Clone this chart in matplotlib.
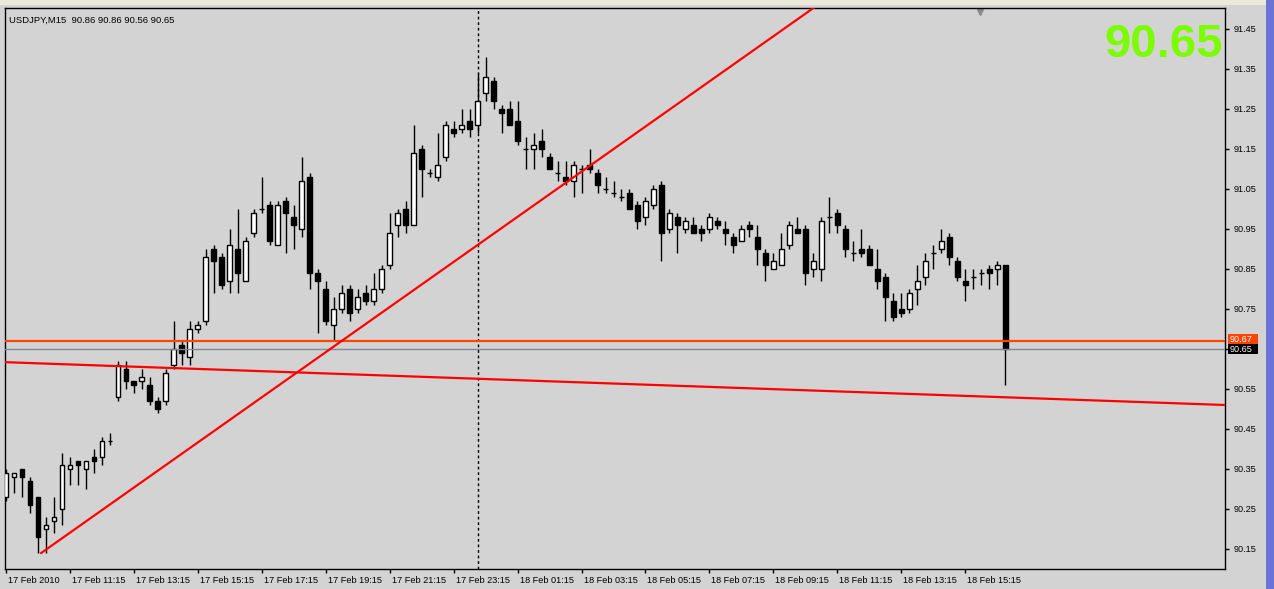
import matplotlib
matplotlib.use('Agg')
import matplotlib.pyplot as plt
import matplotlib.transforms as mtransforms
from matplotlib.patches import Rectangle

# USDJPY M15 candles, 17 Feb 2010 09:15 .. 18 Feb 2010 16:30
opens = [90.28, 90.33, 90.35, 90.32, 90.28, 90.20, 90.22, 90.25, 90.35, 90.37,
         90.35, 90.38, 90.38, 90.42, 90.53, 90.60, 90.57, 90.57, 90.56, 90.52,
         90.52, 90.61, 90.66, 90.63, 90.70, 90.72, 90.90, 90.88, 90.82, 90.90,
         90.82, 90.94, 91.00, 91.01, 90.91, 91.02, 90.98, 90.95, 91.08, 90.84,
         90.80, 90.71, 90.75, 90.80, 90.75, 90.79, 90.77, 90.80, 90.86, 90.96,
         91.00, 90.96, 91.15, 91.09, 91.08, 91.13, 91.20, 91.20, 91.22, 91.21,
         91.29, 91.32, 91.25, 91.25, 91.22, 91.15, 91.15, 91.17, 91.13, 91.09,
         91.08, 91.07, 91.10, 91.11, 91.09, 91.05, 91.04, 91.03, 91.04, 91.01,
         90.98, 91.01, 91.06, 90.95, 90.98, 90.95, 90.96, 90.95, 90.95, 90.97,
         90.95, 90.93, 90.92, 90.96, 90.93, 90.89, 90.85, 90.86, 90.91, 90.95,
         90.95, 90.85, 90.85, 90.98, 90.99, 90.95, 90.89, 90.90, 90.90, 90.85,
         90.83, 90.77, 90.75, 90.75, 90.80, 90.83, 90.89, 90.90, 90.93, 90.87,
         90.82, 90.83, 90.84, 90.85, 90.85, 90.86]
highs = [90.35, 90.34, 90.35, 90.33, 90.28, 90.23, 90.28, 90.39, 90.38, 90.37,
         90.37, 90.40, 90.43, 90.44, 90.62, 90.62, 90.57, 90.60, 90.58, 90.53,
         90.60, 90.72, 90.67, 90.72, 90.72, 90.90, 90.91, 90.89, 90.95, 91.00,
         90.93, 91.00, 91.08, 91.02, 91.02, 91.03, 91.01, 91.13, 91.09, 90.85,
         90.82, 90.78, 90.81, 90.81, 90.80, 90.81, 90.84, 90.86, 90.99, 91.00,
         91.02, 91.21, 91.16, 91.10, 91.19, 91.22, 91.22, 91.25, 91.25, 91.34,
         91.38, 91.33, 91.26, 91.27, 91.27, 91.18, 91.19, 91.20, 91.14, 91.12,
         91.12, 91.12, 91.11, 91.15, 91.10, 91.08, 91.07, 91.05, 91.05, 91.02,
         91.03, 91.06, 91.07, 91.00, 90.99, 90.98, 90.98, 90.96, 90.99, 90.98,
         90.97, 90.94, 90.96, 90.97, 90.96, 90.90, 90.89, 90.94, 90.97, 90.98,
         90.96, 90.89, 90.98, 91.03, 91.00, 90.96, 90.92, 90.95, 90.91, 90.90,
         90.84, 90.79, 90.79, 90.80, 90.86, 90.89, 90.91, 90.95, 90.94, 90.88,
         90.85, 90.85, 90.85, 90.86, 90.87, 90.86]
lows = [90.27, 90.29, 90.28, 90.24, 90.14, 90.14, 90.19, 90.21, 90.31, 90.31,
        90.30, 90.34, 90.36, 90.41, 90.52, 90.55, 90.54, 90.55, 90.51, 90.49,
        90.51, 90.60, 90.61, 90.61, 90.69, 90.71, 90.79, 90.80, 90.79, 90.79,
        90.82, 90.93, 90.99, 90.91, 90.91, 90.89, 90.90, 90.93, 90.80, 90.69,
        90.71, 90.67, 90.74, 90.72, 90.74, 90.76, 90.76, 90.79, 90.85, 90.93,
        90.94, 90.96, 91.03, 91.08, 91.07, 91.12, 91.18, 91.19, 91.18, 91.19,
        91.27, 91.25, 91.19, 91.21, 91.16, 91.10, 91.10, 91.13, 91.10, 91.07,
        91.06, 91.03, 91.04, 91.09, 91.04, 91.04, 91.03, 91.02, 91.00, 90.95,
        90.96, 91.00, 90.87, 90.94, 90.89, 90.94, 90.94, 90.92, 90.94, 90.95,
        90.91, 90.89, 90.92, 90.93, 90.86, 90.82, 90.85, 90.86, 90.90, 90.94,
        90.81, 90.83, 90.82, 90.94, 90.94, 90.88, 90.87, 90.88, 90.86, 90.80,
        90.72, 90.72, 90.73, 90.74, 90.76, 90.81, 90.85, 90.89, 90.86, 90.82,
        90.77, 90.80, 90.81, 90.80, 90.81, 90.56]
closes = [90.34, 90.34, 90.33, 90.26, 90.18, 90.21, 90.23, 90.36, 90.36, 90.36,
          90.37, 90.37, 90.42, 90.42, 90.61, 90.57, 90.56, 90.58, 90.52, 90.50,
          90.59, 90.65, 90.64, 90.70, 90.71, 90.88, 90.87, 90.81, 90.91, 90.84,
          90.92, 90.99, 91.00, 90.92, 91.01, 90.99, 90.96, 91.07, 90.84, 90.82,
          90.72, 90.75, 90.79, 90.74, 90.78, 90.77, 90.80, 90.85, 90.94, 90.99,
          90.96, 91.14, 91.10, 91.09, 91.11, 91.21, 91.19, 91.21, 91.20, 91.27,
          91.33, 91.27, 91.24, 91.21, 91.17, 91.15, 91.16, 91.15, 91.10, 91.09,
          91.07, 91.11, 91.10, 91.10, 91.06, 91.05, 91.04, 91.03, 91.00, 90.97,
          91.02, 91.05, 90.94, 90.99, 90.96, 90.97, 90.94, 90.94, 90.98, 90.96,
          90.94, 90.91, 90.95, 90.95, 90.90, 90.86, 90.87, 90.90, 90.96, 90.94,
          90.84, 90.87, 90.97, 90.98, 90.96, 90.90, 90.89, 90.89, 90.86, 90.82,
          90.78, 90.73, 90.74, 90.79, 90.82, 90.87, 90.89, 90.92, 90.88, 90.83,
          90.81, 90.83, 90.84, 90.84, 90.86, 90.65]

time_labels = ['17 Feb 2010', '17 Feb 11:15', '17 Feb 13:15', '17 Feb 15:15',
               '17 Feb 17:15', '17 Feb 19:15', '17 Feb 21:15', '17 Feb 23:15',
               '18 Feb 01:15', '18 Feb 03:15', '18 Feb 05:15', '18 Feb 07:15',
               '18 Feb 09:15', '18 Feb 11:15', '18 Feb 13:15', '18 Feb 15:15']
price_ticks = [90.15, 90.25, 90.35, 90.45, 90.55, 90.65, 90.75, 90.85,
               90.95, 91.05, 91.15, 91.25, 91.35, 91.45]

# drawn objects (bar index, price)
uptrend_pts = [(4.4, 90.14), (59, 90.91)]
flat_trend_pts = [(0, 90.617), (152.5, 90.51)]
level_line = 90.67
bid = 90.65
day_sep = 59
shift_mark = 121.9

W, H = 1274, 589
fig = plt.figure(figsize=(W / 100, H / 100), dpi=100, facecolor='#D3D3D3')
ax = fig.add_axes([5 / W, 20 / H, 1220 / W, 561 / H])
ax.set_facecolor('#D3D3D3')
ax.set_xlim(-0.125, 152.5)
ax.set_ylim(90.10, 91.5025)

n = len(opens)
xs = list(range(n))
bottoms = [min(o, c) for o, c in zip(opens, closes)]
heights = [abs(c - o) for o, c in zip(opens, closes)]
fills = ['white' if c > o else 'black' for o, c in zip(opens, closes)]

ax.vlines(xs, lows, highs, color='black', linewidth=1, zorder=2)
ax.bar(xs, heights, bottom=bottoms, width=0.6, color=fills,
       edgecolor='black', linewidth=1, zorder=3)

# objects
ax.axvline(day_sep, color='black', linewidth=1, linestyle=(0, (2, 2)), zorder=1)
ax.axhline(bid, color='#7F8A96', linewidth=1, zorder=4)
ax.axhline(level_line, color='#FF4500', linewidth=1.6, zorder=5)
(x1, y1), (x2, y2) = uptrend_pts
slope = (y2 - y1) / (x2 - x1)
ax.plot([x1, 160], [y1, y1 + slope * (160 - x1)], color='#FF0000',
        linewidth=1.6, zorder=5)
ax.axline(flat_trend_pts[0], flat_trend_pts[1], color='#FF0000',
          linewidth=1.6, zorder=5)

# axes styling
for s in ax.spines.values():
    s.set_color('black')
    s.set_linewidth(1)
ax.yaxis.tick_right()
ax.set_yticks(price_ticks)
# the bid tag covers the 90.65 label
ax.set_yticklabels(['' if p == bid else '%.2f' % p for p in price_ticks])
ax.set_xticks(list(range(0, 8 * len(time_labels), 8)))
ax.set_xticklabels(time_labels)
ax.tick_params(axis='both', direction='out', length=3, width=1, color='black',
               labelsize=6.6, labelcolor='black')
ax.tick_params(axis='x', pad=2)
ax.tick_params(axis='y', pad=3)
shift = mtransforms.ScaledTranslation(2 / 100, 0, fig.dpi_scale_trans)
for lab in ax.get_xticklabels():
    lab.set_horizontalalignment('left')
    lab.set_transform(lab.get_transform() + shift)
    lab.set_family('Liberation Sans')
for lab in ax.get_yticklabels():
    lab.set_family('Liberation Sans')

# price tags on the right scale
tr = mtransforms.blended_transform_factory(ax.transAxes, ax.transData)
tag_x0 = 1.0025
tag_w = 30 / 1220
for price, y_mid, col, z in [(level_line, level_line + 0.0045, '#FF4500', 6),
                             (bid, bid - 0.001, 'black', 7)]:
    ax.add_patch(Rectangle((tag_x0, y_mid - 0.0125), tag_w, 0.025, transform=tr,
                           facecolor=col, edgecolor='none', zorder=z,
                           clip_on=False))
    ax.text(tag_x0 + 0.0015, y_mid, '%.2f' % price, transform=tr, fontsize=6.6,
            family='Liberation Sans', color='white', va='center', ha='left',
            zorder=z + 0.5, clip_on=False)

# header and big last price
ax.text(0.0035, 0.986, 'USDJPY,M15  %.2f %.2f %.2f %.2f'
        % (opens[-1], highs[-1], lows[-1], closes[-1]),
        transform=ax.transAxes, fontsize=6.8, family='Liberation Sans',
        va='top', ha='left')
ax.text(0.9985, 0.973, '%.2f' % closes[-1], transform=ax.transAxes,
        fontsize=34, fontweight='bold', family='Liberation Sans',
        color='#7CFC00', va='top', ha='right')

# chart shift marker
tr2 = mtransforms.blended_transform_factory(ax.transData, ax.transAxes)
ax.plot([shift_mark], [0.993], marker='v', markersize=5, color='#8A8A8A',
        transform=tr2, clip_on=False)

# window chrome
fig.patches.append(Rectangle((0, 1 - 5 / H), 1, 5 / H, transform=fig.transFigure,
                             facecolor='#ECE9D8', edgecolor='none'))
fig.patches.append(Rectangle((1266 / W, 0), 8 / W, 1, transform=fig.transFigure,
                             facecolor='#6A74D6', edgecolor='none'))

fig.savefig('out.png', dpi=100, facecolor=fig.get_facecolor())
